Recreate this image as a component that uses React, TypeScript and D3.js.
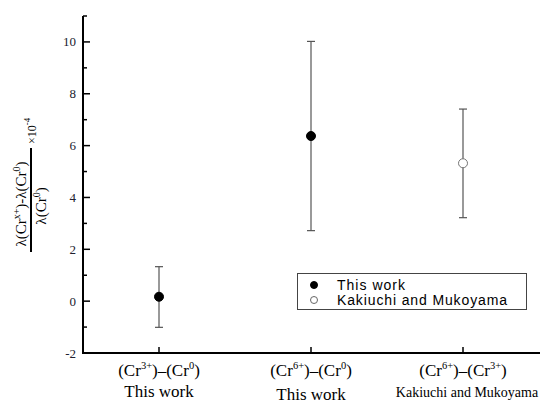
import React from "react";
import * as d3 from "d3";

const categories = ["(Cr3+)–(Cr0)", "(Cr6+)–(Cr0)", "(Cr6+)–(Cr3+)"];
const upperIons = ["3+", "6+", "6+"];
const lowerIons = ["0", "0", "3+"];
const sources = ["This work", "This work", "Kakiuchi and Mukoyama"];
const values = [0.17, 6.37, 5.32];
const errLow = [-1.01, 2.72, 3.22];
const errHigh = [1.33, 10.02, 7.41];
const series = ["This work", "This work", "Kakiuchi and Mukoyama"];
const legendItems = ["This work", "Kakiuchi and Mukoyama"];
const majorTicks = [-2, 0, 2, 4, 6, 8, 10];
const minorTicks = [-1, 1, 3, 5, 7, 9, 11];

const W = 542;
const H = 403;

export default function App() {
  const x = d3.scaleLinear().domain([-0.5, 2.5]).range([83, 539]);
  const y = d3.scaleLinear().domain([-2, 11]).range([353, 16]);
  const serif = "'Liberation Serif', 'Times New Roman', serif";
  const sans = "'Liberation Sans', Arial, sans-serif";
  const axisX = x(-0.5);
  const axisY = y(-2);
  const legendWidths = [68, 170];

  return (
    <svg width={W} height={H} style={{ position: "absolute", left: 0, top: 0, display: "block", background: "#fff" }}>
      {/* error bars and points */}
      {categories.map((c, i) => {
        const cx = x(i);
        const open = series[i] !== "This work";
        return (
          <g key={c}>
            <line x1={cx} x2={cx} y1={y(errLow[i])} y2={y(errHigh[i])} stroke="#555" strokeWidth={1.2} />
            <line x1={cx - 4} x2={cx + 4} y1={y(errLow[i])} y2={y(errLow[i])} stroke="#555" strokeWidth={1.2} />
            <line x1={cx - 4} x2={cx + 4} y1={y(errHigh[i])} y2={y(errHigh[i])} stroke="#555" strokeWidth={1.2} />
            <circle cx={cx} cy={y(values[i])} r={4.5} fill={open ? "#fff" : "#000"} stroke={open ? "#777" : "#000"} strokeWidth={1} />
          </g>
        );
      })}

      {/* axes */}
      <line x1={axisX} x2={axisX} y1={y(11)} y2={axisY + 1} stroke="#000" strokeWidth={2} />
      <line x1={axisX - 1} x2={540} y1={axisY} y2={axisY} stroke="#000" strokeWidth={2} />
      {majorTicks.map((t) => (
        <g key={"M" + t}>
          <line x1={axisX} x2={axisX + 7} y1={y(t)} y2={y(t)} stroke="#000" strokeWidth={1.5} />
          <text x={76} y={y(t) + 4.5} textAnchor="end" fontFamily={serif} fontSize={13} fill="#20202e">{t}</text>
        </g>
      ))}
      {minorTicks.map((t) => (
        <line key={"m" + t} x1={axisX} x2={axisX + 4} y1={y(t)} y2={y(t)} stroke="#000" strokeWidth={1.5} />
      ))}
      {categories.map((c, i) => (
        <line key={"xt" + i} x1={x(i)} x2={x(i)} y1={axisY} y2={axisY - 6} stroke="#000" strokeWidth={1.5} />
      ))}

      {/* category labels */}
      {categories.map((c, i) => (
        <g key={"lab" + i} fontFamily={serif} fill="#000">
          <text x={x(i)} y={376} textAnchor="middle" fontSize={17}>
            (Cr<tspan dy={-7} fontSize={10.5}>{upperIons[i]}</tspan>
            <tspan dy={7}>)–(Cr</tspan>
            <tspan dy={-7} fontSize={10.5}>{lowerIons[i]}</tspan>
            <tspan dy={7}>)</tspan>
          </text>
          <text x={x(i) + (i === 2 ? 4 : 0)} y={i === 1 ? 400 : 397} textAnchor="middle" fontSize={sources[i] === "This work" ? 17 : 14}>
            {sources[i]}
          </text>
        </g>
      ))}

      {/* y-axis label */}
      <g transform="translate(31,200) rotate(-90)" fontFamily={serif} fill="#000">
        <text x={-4} y={-5} textAnchor="middle" fontSize={15}>
          λ(Cr<tspan dy={-6} fontSize={10}>x+</tspan>
          <tspan dy={6}>)-λ(Cr</tspan>
          <tspan dy={-6} fontSize={10}>0</tspan>
          <tspan dy={6}>)</tspan>
        </text>
        <line x1={-52} x2={52} y1={0} y2={0} stroke="#000" strokeWidth={2} />
        <text x={-6} y={15} textAnchor="middle" fontSize={15}>
          λ(Cr<tspan dy={-6} fontSize={10}>0</tspan>
          <tspan dy={6}>)</tspan>
        </text>
        <text x={56} y={5} fontSize={12}>
          ×10<tspan dy={-6} fontSize={9}>-4</tspan>
        </text>
      </g>

      {/* legend */}
      <rect x={297.5} y={273.5} width={229} height={36} fill="#fff" stroke="#444" strokeWidth={1} />
      {legendItems.map((l, i) => (
        <g key={"lg" + i}>
          <circle cx={314} cy={285 + i * 15} r={3.5} fill={i === 0 ? "#000" : "#fff"} stroke={i === 0 ? "#000" : "#666"} strokeWidth={1} />
          <text x={337} y={290 + i * 15} fontFamily={sans} fontSize={14} textLength={legendWidths[i]} lengthAdjust="spacing" fill="#000">{l}</text>
        </g>
      ))}
    </svg>
  );
}
